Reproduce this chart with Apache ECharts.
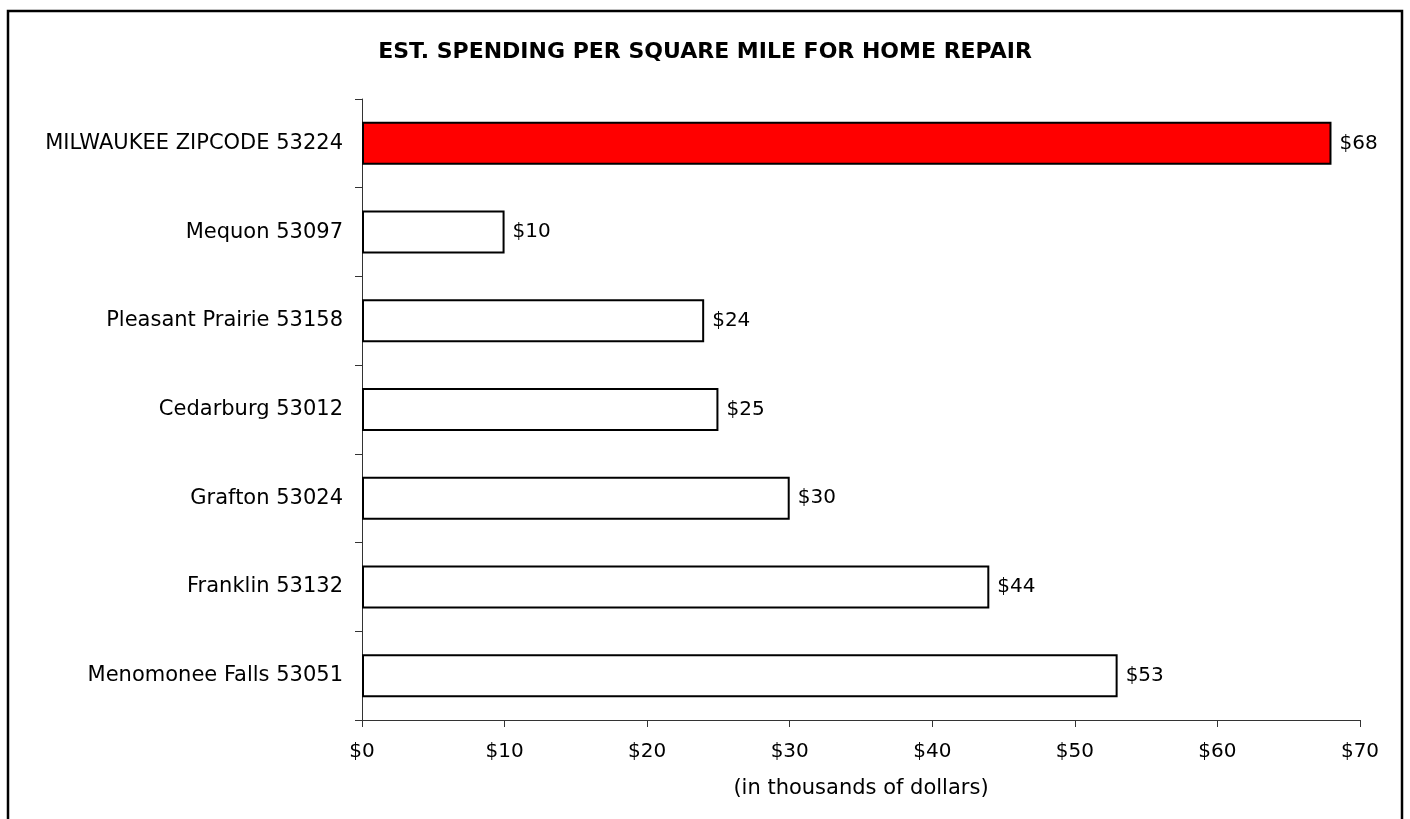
<!DOCTYPE html>
<html><head><meta charset="utf-8">
<script src="https://cdn.jsdelivr.net/npm/echarts@6/dist/echarts.min.js"></script>
<style>html,body{margin:0;padding:0;background:#fff}#c{width:1410px;height:819px}</style>
</head><body><div id="c"></div>
<script>
const categories = ["MILWAUKEE ZIPCODE 53224","Mequon 53097","Pleasant Prairie 53158","Cedarburg 53012","Grafton 53024","Franklin 53132","Menomonee Falls 53051"];
const values = [68,10,24,25,30,44,53];
const highlightIndex = 0;
const chart = echarts.init(document.getElementById('c'));
const font = 'DejaVu Sans, Verdana, sans-serif';
chart.setOption({
  animation:false,
  backgroundColor:'#fff',
  title:{text:'EST. SPENDING PER SQUARE MILE FOR HOME REPAIR',left:'center',top:36,
    textStyle:{fontFamily:font,fontSize:22,fontWeight:'bold',color:'#000'}},
  graphic:[{type:'rect',shape:{x:8,y:11,width:1394,height:830},style:{fill:'none',stroke:'#000',lineWidth:2.5},silent:true}],
  grid:{left:362,right:50,top:99,bottom:99,containLabel:false},
  xAxis:{type:'value',min:0,max:70,interval:10,
    name:'(in thousands of dollars)',nameLocation:'middle',nameGap:58,
    nameTextStyle:{fontFamily:font,fontSize:21,color:'#000'},
    axisLine:{show:true,lineStyle:{color:'#333',width:1}},
    axisTick:{show:true,length:7,lineStyle:{color:'#333'}},
    axisLabel:{formatter:v=>'$'+v,fontFamily:font,fontSize:20,color:'#000',margin:22},
    splitLine:{show:false}},
  yAxis:{type:'category',data:categories,inverse:true,
    axisLine:{show:true,lineStyle:{color:'#333',width:1}},
    axisTick:{show:true,length:7,lineStyle:{color:'#333'}},
    axisLabel:{fontFamily:font,fontSize:21,color:'#000',margin:19}},
  series:[{type:'bar',data:values.map((v,i)=>({value:v,itemStyle:{color:i===highlightIndex?'#ff0000':'#ffffff'}})),
    barCategoryGap:'51.5%',
    itemStyle:{borderColor:'#000',borderWidth:2},
    label:{show:true,position:'right',distance:8,formatter:p=>'$'+p.value,fontFamily:font,fontSize:20,color:'#000'}}]
});
</script></body></html>
